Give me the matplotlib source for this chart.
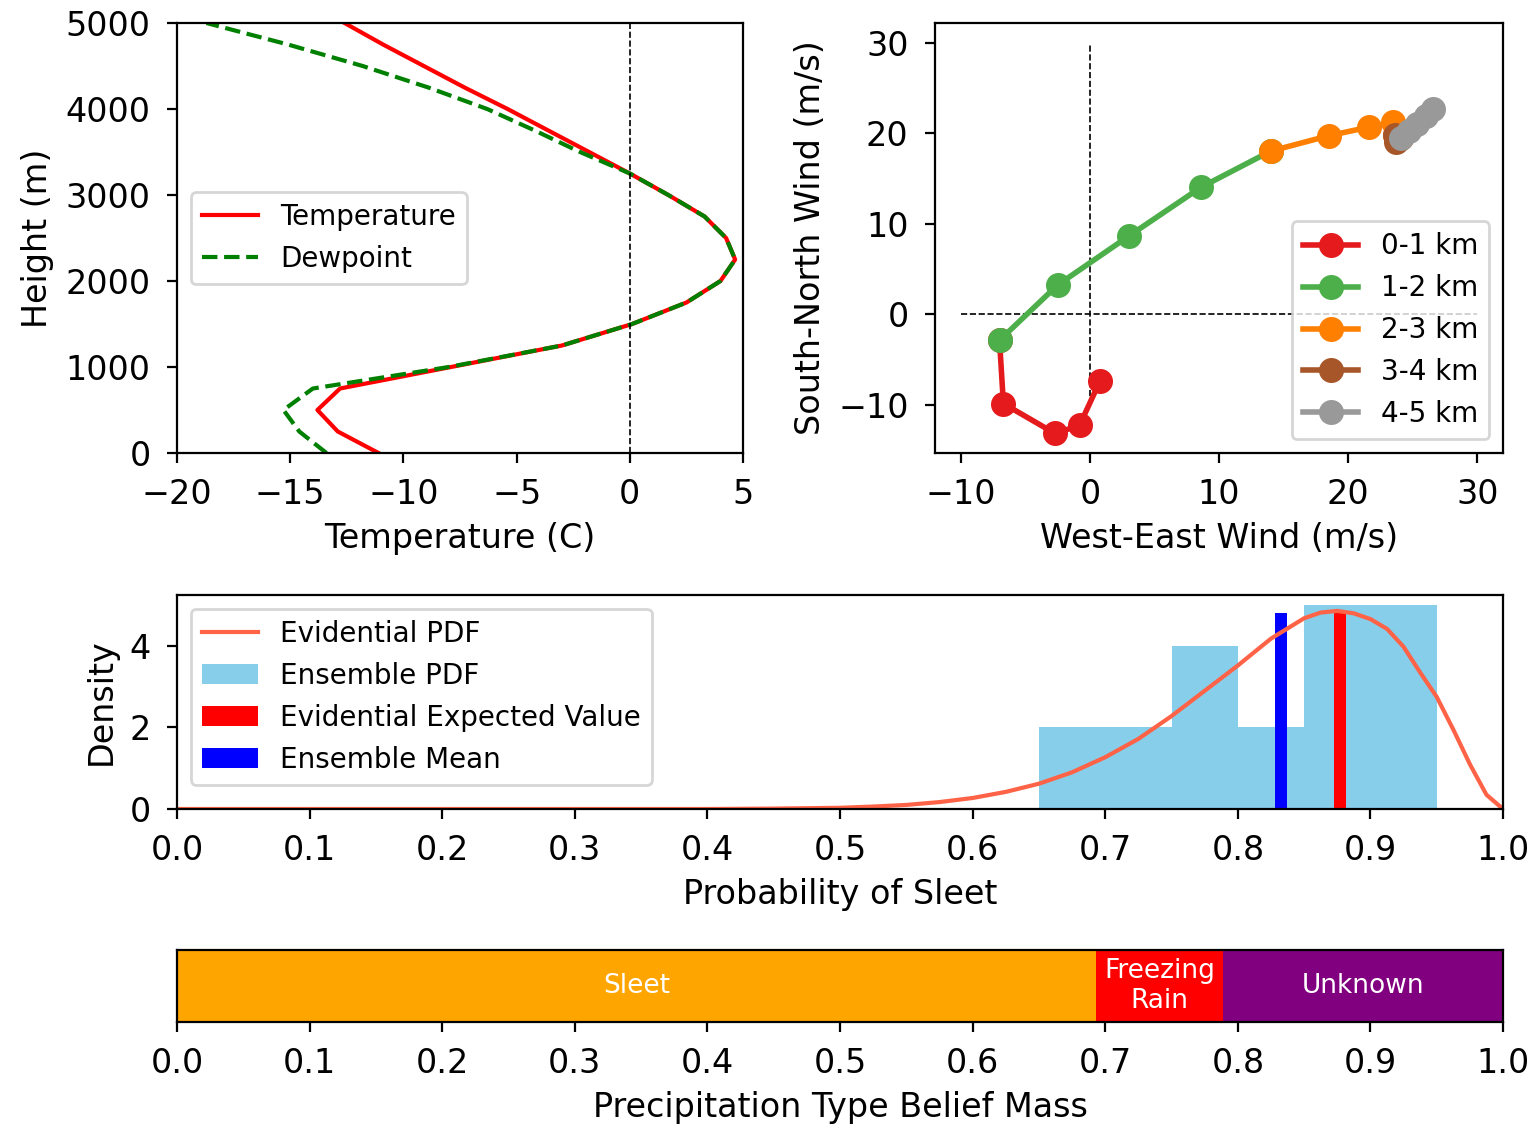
import numpy as np
import matplotlib
matplotlib.use("Agg")
import matplotlib.pyplot as plt

plt.rcParams['font.size'] = 12
plt.rcParams['xtick.major.pad'] = 5.5
plt.rcParams['ytick.major.pad'] = 6

# temperature profile (every 250 m)
height = [0, 250, 500, 750, 1000, 1250, 1500, 1750, 2000, 2250, 2500,
          2750, 3000, 3250, 3500, 3750, 4000, 4250, 4500, 4750, 5000]
temperature = [-11.1, -12.9, -13.8, -12.8, -7.9, -3.0, 0.1, 2.5, 4.0, 4.65, 4.25,
               3.3, 1.7, 0.0, -1.8, -3.6, -5.4, -7.3, -9.1, -10.9, -12.6]
dewpoint = [-13.4, -14.6, -15.3, -14.0, -8.0, -3.0, 0.1, 2.5, 4.0, 4.65, 4.25,
            3.3, 1.7, 0.0, -2.2, -4.2, -6.3, -8.9, -11.8, -15.1, -18.7]

# hodograph, one list per km layer
layer_names = ['0-1 km', '1-2 km', '2-3 km', '3-4 km', '4-5 km']
layer_colors = ['#e41a1c', '#4daf4a', '#ff7f00', '#a65628', '#999999']
u_wind = [[0.8, -0.8, -2.7, -6.7, -7.0],
          [-7.0, -2.5, 3.0, 8.6, 14.0],
          [14.0, 18.5, 21.6, 23.5, 23.6],
          [23.6, 23.7, 23.8, 23.9, 24.1],
          [24.1, 24.7, 25.3, 26.0, 26.6]]
v_wind = [[-7.35, -12.3, -13.2, -9.9, -2.9],
          [-2.9, 3.2, 8.6, 14.0, 18.0],
          [18.0, 19.7, 20.65, 21.2, 19.8],
          [19.8, 19.0, 19.1, 19.3, 19.5],
          [19.5, 20.2, 21.0, 21.9, 22.7]]

# sleet probability
pdf_x = [0.0, 0.1, 0.2, 0.3, 0.4, 0.45, 0.5, 0.525, 0.55, 0.575, 0.6, 0.625, 0.65, 0.675,
         0.7, 0.725, 0.75, 0.775, 0.8, 0.825, 0.85, 0.8625, 0.875, 0.8875,
         0.9, 0.9125, 0.925, 0.9375, 0.95, 0.9625, 0.975, 0.9875, 1.0]
pdf_y = [0.0, 0.0, 0.0, 0.0, 0.0, 0.01, 0.03, 0.06, 0.10, 0.17, 0.27, 0.42, 0.62, 0.90,
         1.27, 1.72, 2.28, 2.90, 3.52, 4.18, 4.68, 4.82, 4.86, 4.80,
         4.66, 4.42, 3.98, 3.35, 2.75, 1.95, 1.10, 0.35, 0.0]
bin_edges = [0.65, 0.70, 0.75, 0.80, 0.85, 0.90, 0.95]
bin_density = [2, 2, 4, 2, 5, 5]
evidential_mean = 0.877
ensemble_mean = 0.8325
bar_top = 4.82

# belief masses
ptype_names = ['Sleet', 'Freezing\nRain', 'Unknown']
ptype_mass = [0.693, 0.096, 0.211]
ptype_colors = ['orange', 'red', 'purple']

fig = plt.figure(figsize=(7.67, 5.64), dpi=200)
ax1 = fig.add_axes([0.1154, 0.5984, 0.369, 0.3812])
ax2 = fig.add_axes([0.6095, 0.5984, 0.3703, 0.3812])
ax3 = fig.add_axes([0.1154, 0.2828, 0.8644, 0.1897])
ax4 = fig.add_axes([0.1154, 0.094, 0.8644, 0.0638])

# temperature / dewpoint
ax1.plot(temperature, height, color='red', lw=1.5, label='Temperature')
ax1.plot(dewpoint, height, color='green', ls='--', lw=1.5, label='Dewpoint')
ax1.plot([0, 0], [0, 5000], 'k--', lw=0.6)
ax1.set_xlim(-20, 5)
ax1.set_ylim(0, 5000)
ax1.set_xlabel('Temperature (C)')
ax1.set_ylabel('Height (m)')
ax1.legend(loc='center left', fontsize=10)

# hodograph
ax2.plot([-10, 30], [0, 0], 'k--', lw=0.6)
ax2.plot([0, 0], [-10, 30], 'k--', lw=0.6)
for i in range(len(layer_names)):
    ax2.plot(u_wind[i], v_wind[i], '-o', color=layer_colors[i], lw=2,
             ms=8, label=layer_names[i])
ax2.set_xticks([-10, 0, 10, 20, 30])
ax2.set_yticks([-10, 0, 10, 20, 30])
ax2.set_xlabel('West-East Wind (m/s)')
ax2.set_ylabel('South-North Wind (m/s)')
ax2.legend(loc='lower right', fontsize=10)

# probability of sleet
centers = [(bin_edges[i] + bin_edges[i + 1]) / 2 for i in range(len(bin_density))]
ax3.plot(pdf_x, pdf_y, color='tomato', lw=1.5, label='Evidential PDF')
ax3.hist(centers, bins=bin_edges, weights=bin_density, color='skyblue',
         label='Ensemble PDF')
ax3.bar(evidential_mean, bar_top, width=0.009, color='red',
        label='Evidential Expected Value')
ax3.bar(ensemble_mean, bar_top, width=0.009, color='blue', label='Ensemble Mean')
ax3.set_xlim(0, 1)
ax3.set_ylim(0, 5.25)
ax3.set_xticks(np.arange(0, 1.01, 0.1))
ax3.set_yticks([0, 2, 4])
ax3.set_xlabel('Probability of Sleet')
ax3.set_ylabel('Density')
ax3.legend(loc='upper left', fontsize=10)

# belief mass bar
left = 0
for name, mass, col in zip(ptype_names, ptype_mass, ptype_colors):
    ax4.barh(0, mass, left=left, height=1, color=col)
    ax4.text(left + mass / 2, 0, name, ha='center', va='center',
             color='white', fontsize=9.5)
    left += mass
ax4.set_xlim(0, 1)
ax4.set_ylim(-0.5, 0.5)
ax4.set_yticks([])
ax4.set_xticks(np.arange(0, 1.01, 0.1))
ax4.set_xlabel('Precipitation Type Belief Mass')

fig.savefig('out.png', dpi=200)
